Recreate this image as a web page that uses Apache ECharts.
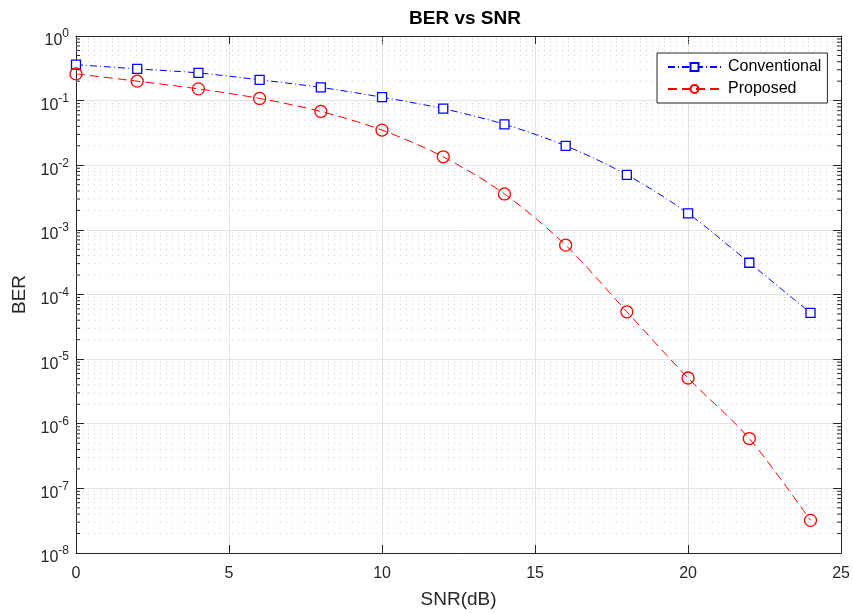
<!DOCTYPE html>
<html>
<head>
<meta charset="utf-8">
<script src="https://cdn.jsdelivr.net/npm/echarts@6/dist/echarts.min.js"></script>
<style>html,body{margin:0;padding:0;background:#fff}#c{width:853px;height:614px}</style>
</head>
<body>
<div id="c"></div>
<script>
var snr = [0, 2, 4, 6, 8, 10, 12, 14, 16, 18, 20, 22, 24];
var conventional = [0.36, 0.31, 0.268, 0.21, 0.16, 0.113, 0.075, 0.043, 0.020, 0.0071, 0.0018, 3.1e-4, 5.2e-5];
var proposed = [0.259, 0.20, 0.152, 0.108, 0.068, 0.035, 0.0135, 0.0036, 5.8e-4, 5.4e-5, 5.1e-6, 5.9e-7, 3.2e-8];
var xTicks = [0, 5, 10, 15, 20, 25];
var yExponents = [-8, -7, -6, -5, -4, -3, -2, -1, 0];

var minorVals = [];
for (var e = -8; e < 0; e++) {
  for (var m = 2; m <= 9; m++) minorVals.push(m * Math.pow(10, e));
}

var textColor = '#262626';
var chart = echarts.init(document.getElementById('c'));
var option = {
  animation: false,
  backgroundColor: '#ffffff',
  title: {
    text: 'BER vs SNR', left: 460, top: 4, textAlign: 'center',
    textStyle: {fontFamily: 'Liberation Sans', fontSize: 19, fontWeight: 'bold', color: '#000'}
  },
  grid: {left: 76, right: 9, top: 36, bottom: 57, containLabel: false},
  legend: {
    left: 657, top: 53, orient: 'vertical',
    padding: [5, 6, 5, 10],
    itemGap: 4, itemWidth: 53, itemHeight: 10,
    borderColor: '#262626', borderWidth: 1, backgroundColor: '#fff',
    textStyle: {fontFamily: 'Liberation Sans', fontSize: 16, color: '#000', padding: [0, 0, 0, 2], lineHeight: 18},
    data: ['Conventional', 'Proposed']
  },
  xAxis: [{
    type: 'value', min: 0, max: 25, interval: 5,
    name: 'SNR(dB)', nameLocation: 'middle', nameGap: 37,
    nameTextStyle: {fontFamily: 'Liberation Sans', fontSize: 19, color: textColor},
    axisLine: {show: true, onZero: false, lineStyle: {color: textColor, width: 1}},
    axisTick: {show: true, inside: true, length: 8, lineStyle: {color: textColor}},
    axisLabel: {fontFamily: 'Liberation Sans', fontSize: 16, color: textColor, margin: 13,
      formatter: function (v) { return xTicks.indexOf(v) >= 0 ? String(v) : ''; }},
    splitLine: {show: true, lineStyle: {color: '#e3e3e3', width: 1}}
  }, {
    type: 'value', min: 0, max: 25, interval: 5, position: 'top',
    axisLine: {show: true, onZero: false, lineStyle: {color: textColor, width: 1}},
    axisTick: {show: true, inside: true, length: 8, lineStyle: {color: textColor}},
    axisLabel: {show: false}, splitLine: {show: false}
  }],
  yAxis: [{
    type: 'log', logBase: 10, min: 1e-8, max: 1,
    name: 'BER', nameLocation: 'middle', nameGap: 46,
    nameTextStyle: {fontFamily: 'Liberation Sans', fontSize: 19, color: textColor},
    axisLine: {show: true, onZero: false, lineStyle: {color: textColor, width: 1}},
    axisTick: {show: true, inside: true, length: 8, lineStyle: {color: textColor}},
    axisLabel: {
      margin: 7,
      formatter: function (v) {
        var ex = Math.round(Math.log10(v));
        return '{b|10}{s|' + ex + '}';
      },
      rich: {
        b: {fontFamily: 'Liberation Sans', fontSize: 16, color: textColor, padding: [10, 0, 0, 0]},
        s: {fontFamily: 'Liberation Sans', fontSize: 12, color: textColor, padding: [0, 0, 4, 0]}
      }
    },
    splitLine: {show: true, lineStyle: {color: '#e3e3e3', width: 1}}
  }, {
    type: 'log', logBase: 10, min: 1e-8, max: 1, position: 'right',
    axisLine: {show: true, onZero: false, lineStyle: {color: textColor, width: 1}},
    axisTick: {show: true, inside: true, length: 8, lineStyle: {color: textColor}},
    axisLabel: {show: false}, splitLine: {show: false}
  }],
  series: [{
    type: 'custom', name: 'minor', silent: true, z: 1,
    xAxisIndex: 0, yAxisIndex: 0,
    data: minorVals.map(function (v) { return [0, v]; }),
    renderItem: function (params, api) {
      var v = api.value(1);
      var p0 = api.coord([0, v]);
      var p1 = api.coord([25, v]);
      return {
        type: 'group',
        children: [{
          type: 'line', shape: {x1: p0[0], y1: p0[1], x2: p1[0], y2: p1[1]},
          style: {stroke: '#cfcfcf', lineWidth: 1, lineDash: [1, 5]}
        }, {
          type: 'line', shape: {x1: p0[0], y1: p0[1], x2: p0[0] + 4, y2: p0[1]},
          style: {stroke: textColor, lineWidth: 1}
        }, {
          type: 'line', shape: {x1: p1[0] - 4, y1: p1[1], x2: p1[0], y2: p1[1]},
          style: {stroke: textColor, lineWidth: 1}
        }]
      };
    }
  }, {
    name: 'Conventional', type: 'line', smooth: 0.3, z: 5,
    data: snr.map(function (x, i) { return [x, conventional[i]]; }),
    symbol: 'rect', symbolSize: 9,
    itemStyle: {color: '#fff', borderColor: '#0000ff', borderWidth: 1.3},
    lineStyle: {color: '#0000ff', width: 1, type: [7, 3, 1, 3]}
  }, {
    name: 'Proposed', type: 'line', smooth: 0.3, z: 5,
    data: snr.map(function (x, i) { return [x, proposed[i]]; }),
    symbol: 'circle', symbolSize: 12,
    itemStyle: {color: 'rgba(255,255,255,0)', borderColor: '#ff0000', borderWidth: 1.3},
    lineStyle: {color: '#ff0000', width: 1, type: [9, 5]}
  }]
};
chart.setOption(option);
</script>
</body>
</html>
